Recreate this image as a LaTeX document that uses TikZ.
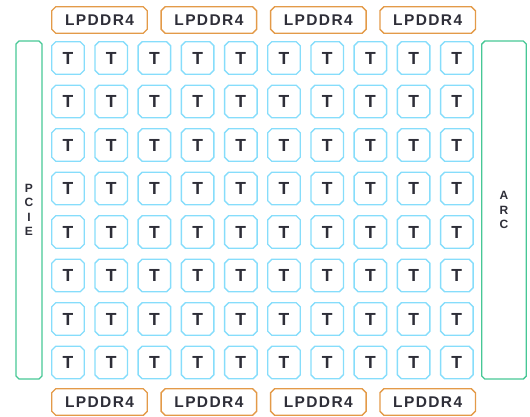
\documentclass[tikz,border=0pt]{standalone}
\usepackage{fontspec}
\setmainfont{Liberation Sans}
\usetikzlibrary{shapes.misc, positioning}

\definecolor{tileblue}{HTML}{86DDFB}
\definecolor{memorange}{HTML}{E39A48}
\definecolor{iogreen}{HTML}{46C795}
\definecolor{labelgray}{HTML}{2E2E38}

\begin{document}
\begin{tikzpicture}[
    x=1pt, y=-1pt,
    node distance=11pt and 12.5pt,
    tile/.style={
        chamfered rectangle,
        chamfered rectangle xsep=2pt,
        chamfered rectangle ysep=2pt,
        draw=tileblue,
        line width=1.4pt,
        minimum width=32.5pt,
        minimum height=32.5pt,
        inner sep=0pt,
        text=labelgray,
        font=\fontsize{17.5}{17.5}\selectfont\bfseries
    },
    mem/.style={
        chamfered rectangle,
        chamfered rectangle xsep=2pt,
        chamfered rectangle ysep=2pt,
        draw=memorange,
        line width=1.4pt,
        minimum width=95.5pt,
        minimum height=26.5pt,
        inner sep=0pt,
        text=labelgray,
        font=\addfontfeatures{LetterSpace=9}\fontsize{15.5}{15.5}\selectfont\bfseries
    },
    port/.style={
        chamfered rectangle,
        chamfered rectangle xsep=1.5pt,
        chamfered rectangle ysep=1.5pt,
        draw=iogreen,
        line width=1.4pt,
        minimum height=338pt,
        inner sep=0pt,
        align=center,
        text=labelgray,
        font=\fontsize{12}{14.5}\selectfont\bfseries
    }
]

\useasboundingbox (0,0) rectangle (530,416);

% tile array
\foreach \r in {0,...,7} {
    \foreach \c in {0,...,9} {
        \node[tile] (t-\r-\c) at ({68+43.2*\c},{58+43.5*\r}) {T};
    }
}

% memory controllers
\node[mem] (ddr-n1) at (99.5,20) {LPDDR4};
\node[mem, right=of ddr-n1] (ddr-n2) {LPDDR4};
\node[mem, right=of ddr-n2] (ddr-n3) {LPDDR4};
\node[mem, right=of ddr-n3] (ddr-n4) {LPDDR4};

\node[mem] (ddr-s1) at (99.5,402) {LPDDR4};
\node[mem, right=of ddr-s1] (ddr-s2) {LPDDR4};
\node[mem, right=of ddr-s2] (ddr-s3) {LPDDR4};
\node[mem, right=of ddr-s3] (ddr-s4) {LPDDR4};

% side blocks
\node[port, minimum width=26pt] (pcie) at (29,210) {P\\C\\I\\E};
\node[port, minimum width=44.5pt] (arc) at (504,210) {A\\R\\C};

\end{tikzpicture}
\end{document}
